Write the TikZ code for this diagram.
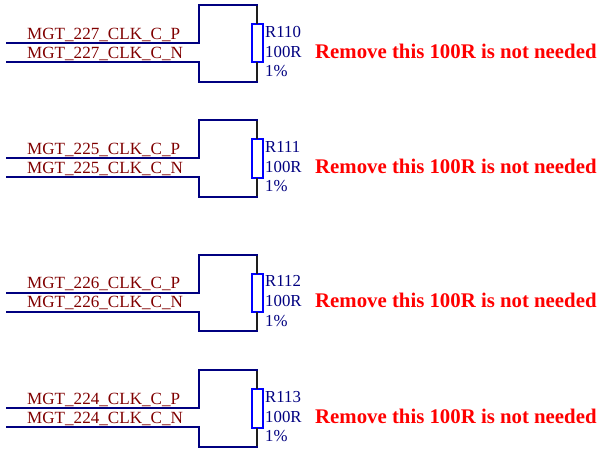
\documentclass[tikz,border=0pt]{standalone}
\usepackage{fontspec}
\setmainfont{Liberation Serif}
\definecolor{wireblue}{RGB}{0,0,128}
\definecolor{pinblue}{RGB}{0,0,255}
\definecolor{netred}{RGB}{128,0,0}
\definecolor{pinblack}{RGB}{30,30,30}
\tikzset{
  wire/.style={draw=wireblue,line width=2pt,line cap=rect},
  pinline/.style={draw=pinblack,line width=2pt},
  resbody/.style={draw=pinblue,line width=2pt,fill=white,minimum width=11pt,minimum height=38.5pt,inner sep=0pt,outer sep=0pt},
  netlabel/.style={text=netred,font=\fontsize{17.1}{17.1}\selectfont,inner sep=0pt,anchor=base west},
  reslabel/.style={text=wireblue,font=\fontsize{16.8}{16.8}\selectfont,inner sep=0pt,anchor=base west},
  note/.style={text=red,font=\fontsize{20.8}{20.8}\selectfont\bfseries,inner sep=0pt,anchor=base west}
}
\begin{document}
\begin{tikzpicture}[x=1pt,y=-1pt]
\useasboundingbox (0,0) rectangle (607,453);
\foreach \top/\bank/\res in {4.8/227/R110,120/225/R111,254.5/226/R112,370/224/R113}{
  \begin{scope}[shift={(0,\top)}]
    \coordinate (pin\res) at (7,38.2);
    \coordinate (nin\res) at (7,57.4);
    \coordinate (ptop\res) at (199,0);
    \coordinate (pbot\res) at (199,76.7);
    \coordinate (rtop\res) at (257,0);
    \coordinate (rbot\res) at (257,76.7);
    \coordinate (pmid\res) at (199,38.2);
    \coordinate (nmid\res) at (199,57.4);
    \node[resbody] (body\res) at (257,38.4) {};
    \draw[pinline] (rtop\res) -- (body\res.north);
    \draw[pinline] (body\res.south) -- (rbot\res);
    \draw[wire] (pin\res) -- (pmid\res) -- (ptop\res) -- (rtop\res);
    \draw[wire] (nin\res) -- (nmid\res) -- (pbot\res) -- (rbot\res);
    \node[netlabel] (pl\res) at (27,34.2) {MGT\_\bank\_CLK\_C\_P};
    \node[netlabel] (nl\res) at (27,53.2) {MGT\_\bank\_CLK\_C\_N};
    \node[reslabel] (ref\res) at (265,32.2) {\res};
    \node[reslabel] (val\res) at (265,52.2) {100R};
    \node[reslabel] (tol\res) at (265,71.5) {1\%};
    \node[note] (note\res) at (315,53.2) {Remove this 100R is not needed};
  \end{scope}
}
\end{tikzpicture}
\end{document}
